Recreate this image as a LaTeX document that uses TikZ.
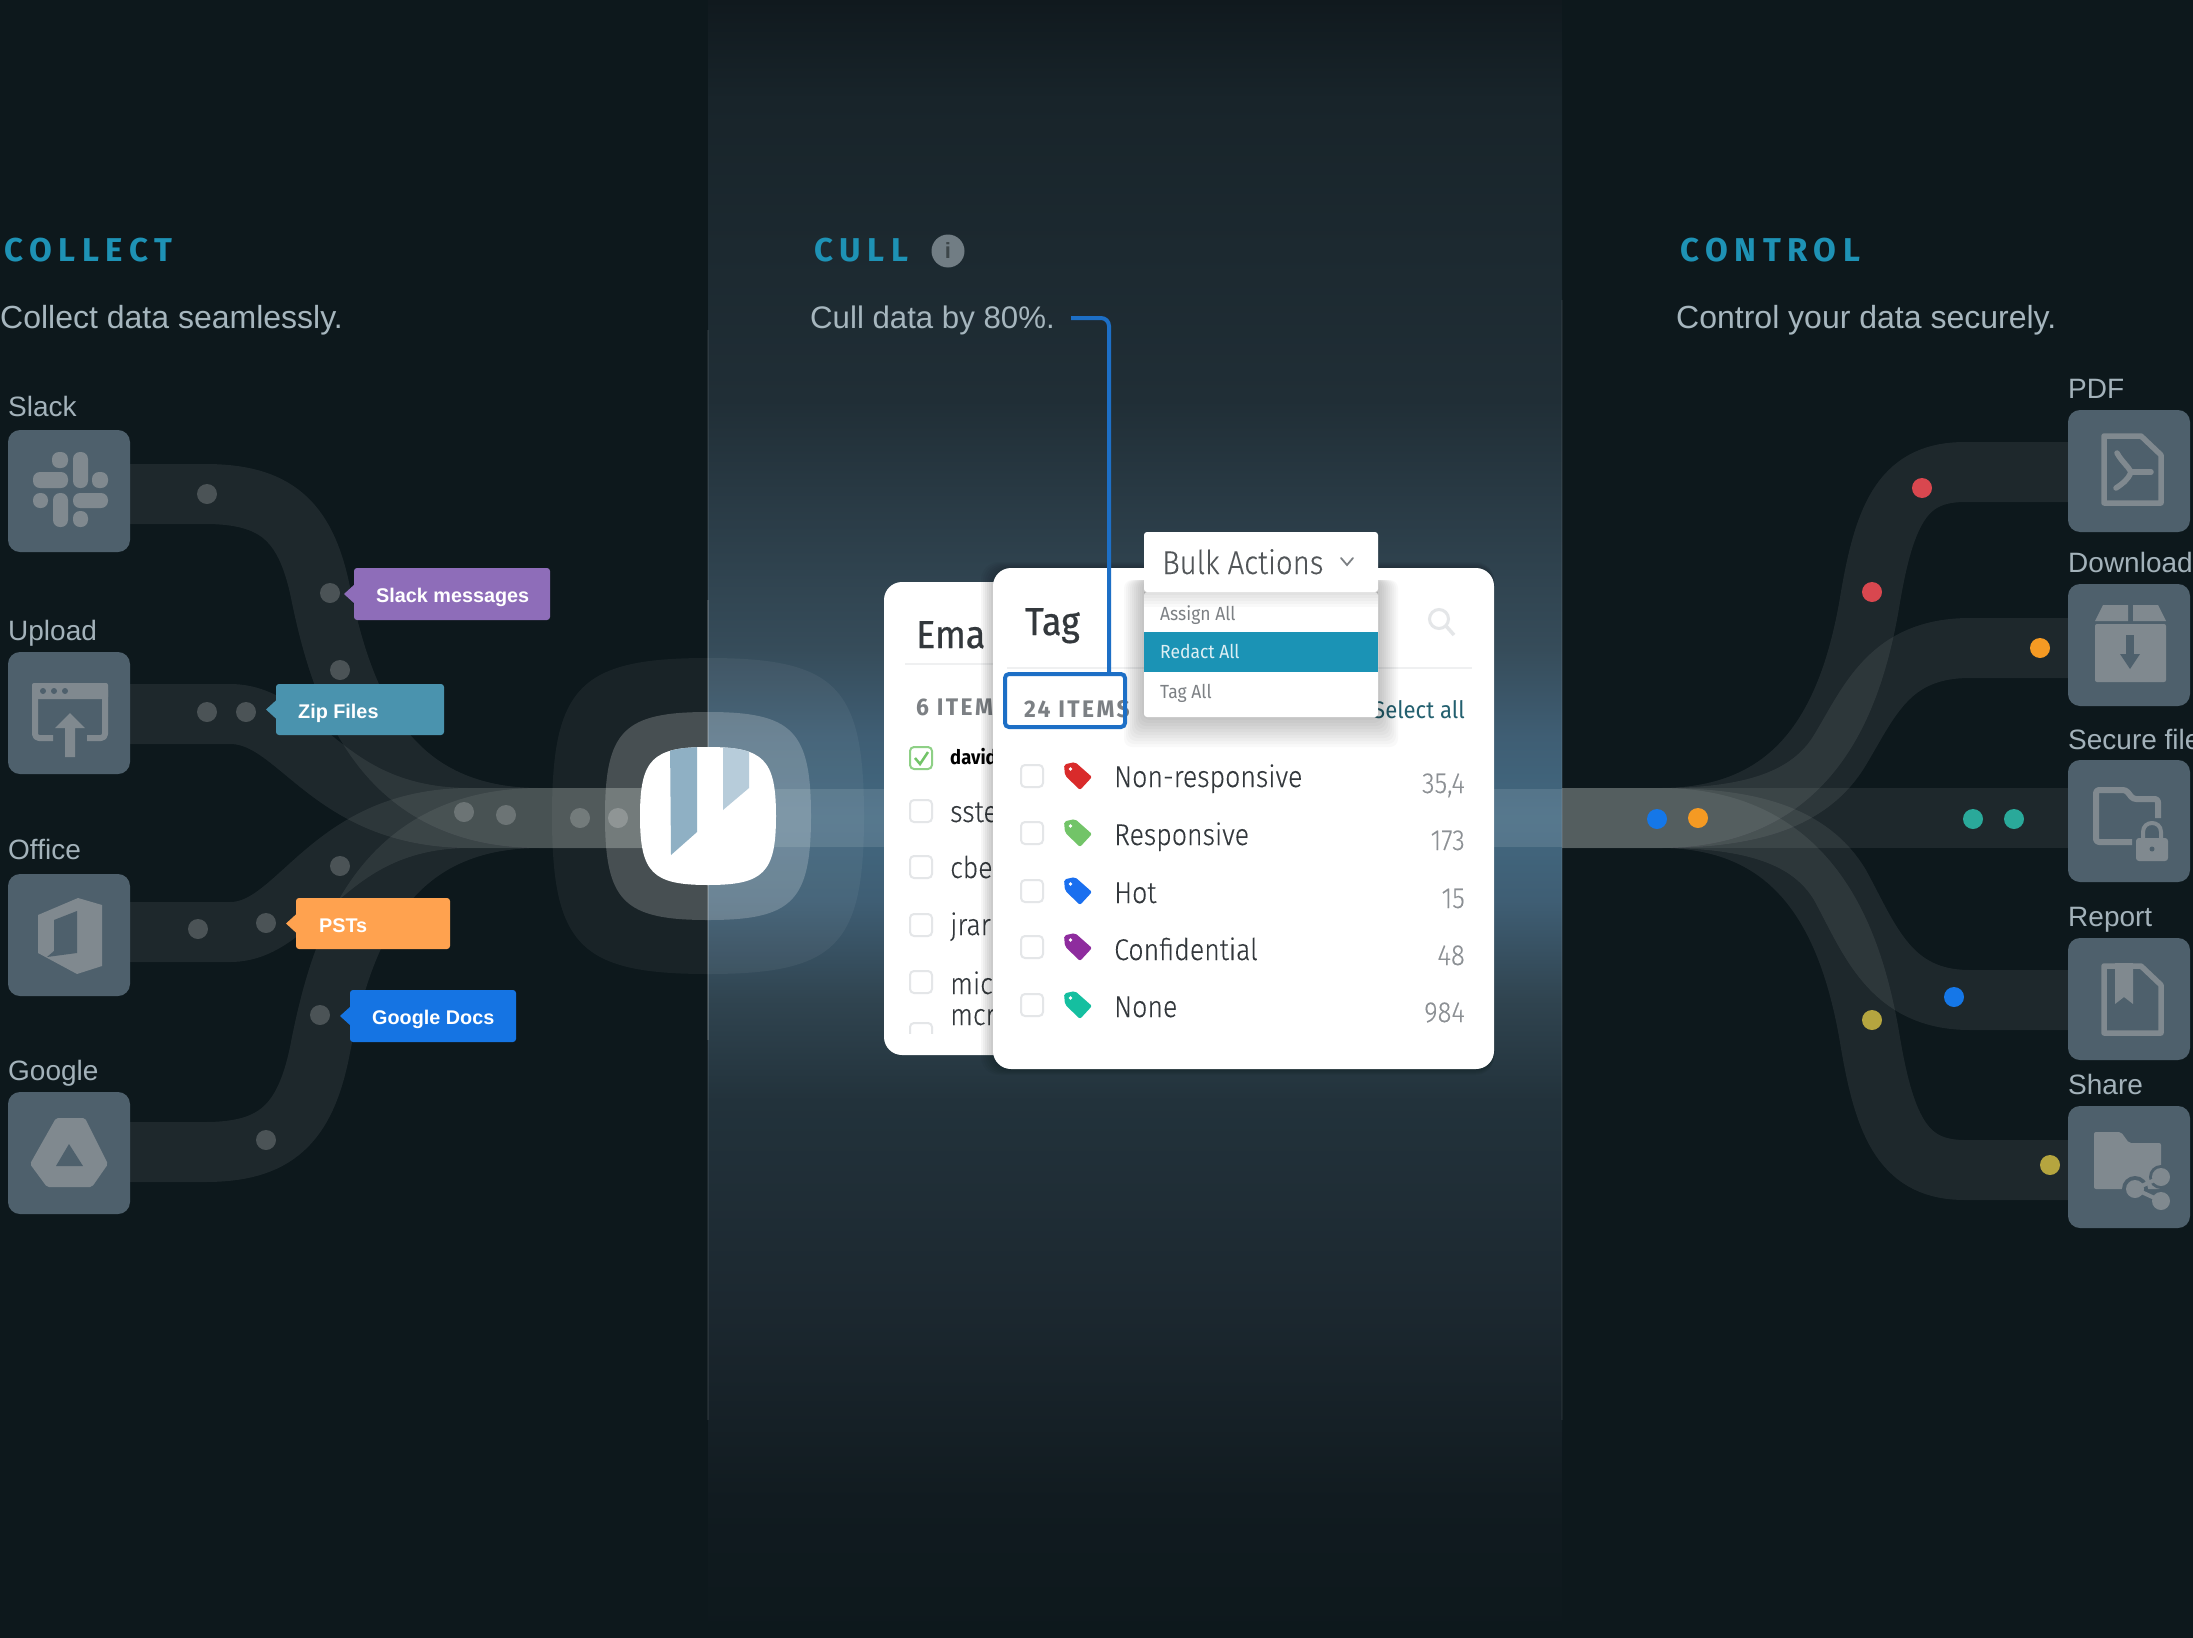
\documentclass[tikz,border=0pt]{standalone}
\usepackage{fontspec}
\setmainfont{Liberation Sans}
\newfontfamily\ui[FakeStretch=0.89,FakeBold=0.2]{Fira Sans Light}
\newfontfamily\uimed[FakeStretch=0.92]{Fira Sans}
\newfontfamily\uihead[FakeStretch=0.92,FakeBold=0.6]{Fira Sans}
\newfontfamily\uispace[FakeStretch=0.95,LetterSpace=10]{Fira Sans}
\newfontfamily\headfont[LetterSpace=20]{Fira Sans}
\usetikzlibrary{calc}
\definecolor{bgdark}{HTML}{0D181C}
\definecolor{boxc}{HTML}{4E606C}
\definecolor{iconc}{HTML}{80898F}
\definecolor{labelc}{HTML}{A3B2BA}
\definecolor{subc}{HTML}{A6B6BE}
\definecolor{headc}{HTML}{1E92B5}
\definecolor{bluel}{HTML}{1D6FC6}
\definecolor{cpurple}{HTML}{8E6DB9}
\definecolor{cteal}{HTML}{4A93AE}
\definecolor{corange}{HTML}{FFA24F}
\definecolor{cblue}{HTML}{1574E3}
\definecolor{dred}{HTML}{D9474F}
\definecolor{dorange}{HTML}{F59A23}
\definecolor{dblue}{HTML}{1577E8}
\definecolor{dteal}{HTML}{2AA99A}
\definecolor{dolive}{HTML}{B5A53F}
\definecolor{redact}{HTML}{1B93B5}
\definecolor{txtd}{HTML}{33383C}
\definecolor{txtg}{HTML}{7C8084}
\definecolor{numg}{HTML}{8C9094}
\definecolor{selc}{HTML}{23606F}
\definecolor{chk}{HTML}{E4E6E8}
\definecolor{tred}{HTML}{D92B2B}
\definecolor{tgreen}{HTML}{72C468}
\definecolor{tblue}{HTML}{1A6FEF}
\definecolor{tpurple}{HTML}{8E2C9E}
\definecolor{tteal}{HTML}{15BFA0}
\definecolor{strip1}{HTML}{8FB0C4}
\definecolor{strip2}{HTML}{B7CCDA}
\definecolor{sa}{HTML}{111B20}
\definecolor{sb}{HTML}{1C2830}
\definecolor{sc}{HTML}{22323B}
\definecolor{sd}{HTML}{304450}
\definecolor{se}{HTML}{3F5E74}
\definecolor{sf}{HTML}{426880}
\definecolor{sg}{HTML}{364C5A}
\definecolor{sh}{HTML}{202E36}
\definecolor{si}{HTML}{18242A}
\definecolor{sj}{HTML}{10191E}
\pgfdeclareverticalshading{cband}{100bp}{%
 color(0bp)=(bgdark); color(25bp)=(bgdark);
 color(29.2bp)=(sa);
 color(35.3bp)=(sb);
 color(41.4bp)=(sc);
 color(44.5bp)=(sd);
 color(47.5bp)=(se);
 color(50bp)=(sf);
 color(52.5bp)=(se);
 color(55.2bp)=(sg);
 color(62.8bp)=(sh);
 color(71.95bp)=(si);
 color(75bp)=(sj);
 color(100bp)=(sj)}
\tikzset{
 track/.style={draw=white,draw opacity=0.07,line width=60pt,line cap=butt},
 gdot/.style={circle,fill=white,fill opacity=0.2,inner sep=0pt,minimum size=20pt},
 cdot/.style={circle,fill=#1,inner sep=0pt,minimum size=20pt},
 srcbox/.style={rectangle,fill=boxc,rounded corners=12pt,inner sep=0pt,minimum width=122pt,minimum height=122pt},
 txt/.style={inner sep=0pt,anchor=base west},
 txr/.style={inner sep=0pt,anchor=base east},
 lab/.style={txt,text=labelc,font=\fontsize{28}{32}\selectfont},
 sub/.style={txt,text=subc,font=\fontsize{32}{36}\selectfont},
 head/.style={txt,text=headc,font=\fontsize{33}{36}\headfont\bfseries},
 calltxt/.style={txt,text=white,font=\fontsize{19.8}{24}\selectfont\bfseries},
 cardrow/.style={txt,text=txtd,font=\fontsize{30}{34}\ui},
 num/.style={txr,text=numg,font=\fontsize{29}{34}\ui},
 menu/.style={txt,text=txtg,font=\fontsize{19}{22}\uimed},
 cbx/.style={draw=chk,line width=2pt,rounded corners=4pt},
 ico/.style={fill=iconc},
 icol/.style={draw=iconc,line width=6pt,line join=round},
}
\newcommand{\sqpath}[4]{(#1-#3,#2) .. controls (#1-#3,#2-0.82*#4) and (#1-0.82*#3,#2-#4) .. (#1,#2-#4) .. controls (#1+0.82*#3,#2-#4) and (#1+#3,#2-0.82*#4) .. (#1+#3,#2) .. controls (#1+#3,#2+0.82*#4) and (#1+0.82*#3,#2+#4) .. (#1,#2+#4) .. controls (#1-0.82*#3,#2+#4) and (#1-#3,#2+0.82*#4) .. (#1-#3,#2) -- cycle}
\newcommand{\callout}[9]{%
 \fill[#7,rounded corners=3pt] (#2,#3) rectangle (#4,#5);
 \fill[#7] (#2-10,#3/2+#5/2) -- (#2+1,#3/2+#5/2-10) -- (#2+1,#3/2+#5/2+10) -- cycle;
 \node[calltxt] (#1) at (#6,#8) {#9};}
\newcommand{\tagicon}[2]{%
 \begin{scope}[shift={(1078,#1)}]
 \fill[#2,rounded corners=2pt] (-14,-11.5) -- (-3,-14) -- (14,1) -- (2,14) -- (-13,-0.5) -- cycle;
 \fill[white] (-7.5,-7) circle[radius=1.8pt];
 \end{scope}}
\newcommand{\pill}[4]{\fill[iconc,rounded corners=7pt] (#1,#2) rectangle (#3,#4);}
\begin{document}
\begin{tikzpicture}[x=1pt,y=-1pt]
\useasboundingbox (0,0) rectangle (2193,1638);
\fill[bgdark] (0,0) rectangle (2193,1638);
\shade[shading=cband] (708,0) rectangle (1562,1638);
% centre band
\fill[white,opacity=0.11] (708,789) rectangle (1562,847);
% thin edge lines
\draw[white,opacity=0.07,line width=1.5pt] (708,330) -- (708,1420);
\draw[white,opacity=0.12,line width=1.5pt] (708,600) -- (708,1040);
\draw[white,opacity=0.05,line width=1.5pt] (1562,300) -- (1562,1420);
% left tracks
\draw[track] (130,494) -- (205,494) .. controls (275,494) and (305,520) .. (320,590) .. controls (342,700) and (385,818) .. (540,818) -- (708,818);
\draw[track] (130,714) -- (230,714) .. controls (300,714) and (325,818) .. (470,818) -- (708,818);
\draw[track] (130,932) -- (230,932) .. controls (300,932) and (325,818) .. (470,818) -- (708,818);
\draw[track] (130,1152) -- (205,1152) .. controls (275,1152) and (305,1125) .. (320,1050) .. controls (342,936) and (385,818) .. (540,818) -- (708,818);
% right tracks
\draw[track] (2068,472) -- (1965,472) .. controls (1905,472) and (1885,510) .. (1870,600) .. controls (1850,720) and (1800,818) .. (1660,818) -- (1562,818);
\draw[track] (2068,648) -- (1970,648) .. controls (1890,648) and (1870,700) .. (1840,750) .. controls (1810,800) and (1750,818) .. (1660,818) -- (1562,818);
\draw[track] (2068,818) -- (1562,818);
\draw[track] (2068,1000) -- (1970,1000) .. controls (1890,1000) and (1870,940) .. (1840,885) .. controls (1810,835) and (1750,818) .. (1660,818) -- (1562,818);
\draw[track] (2068,1170) -- (1965,1170) .. controls (1905,1170) and (1885,1130) .. (1870,1040) .. controls (1850,920) and (1800,818) .. (1660,818) -- (1562,818);
% logo
\fill[white,opacity=0.05] \sqpath{708}{816}{156}{158};
\fill[white,opacity=0.2] \sqpath{708}{816}{103}{104};
\fill[white] \sqpath{708}{816}{68}{69};
\begin{scope}
\clip \sqpath{708}{816}{68}{69};
\fill[strip1] (670,740) -- (697,740) -- (697,832) -- (671,855) -- cycle;
\fill[strip2] (723,740) -- (749,740) -- (749,788) -- (723,810) -- cycle;
\end{scope}
% grey dots
\node[gdot] (g1) at (207,494) {};
\node[gdot] (g2) at (330,593) {};
\node[gdot] (g3) at (340,670) {};
\node[gdot] (g4) at (207,712) {};
\node[gdot] (g5) at (246,712) {};
\node[gdot] (g6) at (464,812) {};
\node[gdot] (g7) at (506,815) {};
\node[gdot] (g8) at (580,818) {};
\node[gdot] (g9) at (618,818) {};
\node[gdot] (g10) at (340,866) {};
\node[gdot] (g11) at (198,929) {};
\node[gdot] (g12) at (266,923) {};
\node[gdot] (g13) at (320,1015) {};
\node[gdot] (g14) at (266,1140) {};
% coloured dots
\node[cdot=dred] (c1) at (1922,488) {};
\node[cdot=dred] (c2) at (1872,592) {};
\node[cdot=dorange] (c3) at (2040,648) {};
\node[cdot=dblue] (c4) at (1657,819) {};
\node[cdot=dorange] (c5) at (1698,818) {};
\node[cdot=dteal] (c6) at (1973,819) {};
\node[cdot=dteal] (c7) at (2014,819) {};
\node[cdot=dblue] (c8) at (1954,997) {};
\node[cdot=dolive] (c9) at (1872,1020) {};
\node[cdot=dolive] (c10) at (2050,1165) {};
% headings
\node[head] (hcollect) at (4,261) {COLLECT};
\node[head] (hcull) at (814,261) {CULL};
\node[head] (hcontrol) at (1680,261) {CONTROL};
\node[circle,fill=iconc!70!boxc,inner sep=0pt,minimum size=33pt,text=bgdark!80!white,font=\fontsize{22}{24}\selectfont\bfseries] (info) at (948,251) {i};
\node[sub] (scollect) at (0,328) {Collect data seamlessly.};
\node[sub,font=\fontsize{31.2}{36}\selectfont] (scull) at (810,328) {Cull data by 80\%.};
\node[sub] (scontrol) at (1676,328) {Control your data securely.};
% source boxes
\node[lab] (lslack) at (8,416) {Slack};
\node[lab] (lupload) at (8,640) {Upload};
\node[lab] (loffice) at (8,859) {Office};
\node[lab] (lgoogle) at (8,1080) {Google};
\node[srcbox] (bslack) at (69,491) {};
\node[srcbox] (bupload) at (69,713) {};
\node[srcbox] (boffice) at (69,935) {};
\node[srcbox] (bgoogle) at (69,1153) {};
% slack icon
\pill{73}{452}{88}{488}\pill{33}{472}{68}{488}\pill{73}{493}{108}{508}\pill{53}{493}{68}{527}
\pill{52}{452}{68}{468}\pill{92}{472}{108}{488}\pill{33}{493}{48}{508}\pill{73}{511}{88}{527}
% upload icon
\draw[icol,rounded corners=4pt] (53,738) -- (35,738) -- (35,686) -- (105,686) -- (105,738) -- (87,738);
\fill[iconc,rounded corners=2pt] (32,683) rectangle (108,699);
\fill[boxc] (43,691) circle[radius=3pt] (54,691) circle[radius=3pt] (65,691) circle[radius=3pt];
\fill[iconc] (70,713) -- (85,728) -- (75,728) -- (75,757) -- (65,757) -- (65,728) -- (55,728) -- cycle;
% office icon
\fill[iconc] (38,915) -- (78,898) -- (102,905) -- (102,966) -- (77,974) -- (38,953) -- cycle;
\fill[boxc] (54,920) -- (77,911) -- (77,953) -- (47,957) -- (54,951) -- cycle;
% drive icon
\fill[iconc,rounded corners=2pt] (56,1118) -- (85,1118) -- (108,1164) -- (92,1187) -- (47,1187) -- (30,1164) -- cycle;
\fill[boxc] (69,1144) -- (83,1166) -- (56,1166) -- cycle;
% callouts
\callout{mslack}{354}{568}{550}{620}{376}{cpurple}{602}{Slack messages}
\callout{mzip}{276}{684}{444}{735}{298}{cteal}{718}{Zip Files}
\callout{mpst}{296}{898}{450}{949}{319}{corange}{932}{PSTs}
\callout{mdocs}{350}{990}{516}{1042}{372}{cblue}{1024}{Google Docs}
% right boxes
\node[lab] (lpdf) at (2068,398) {PDF};
\node[lab] (ldl) at (2068,572) {Download};
\node[lab] (lsec) at (2068,749) {Secure file};
\node[lab] (lrep) at (2068,926) {Report};
\node[lab] (lshare) at (2068,1094) {Share};
\node[srcbox] (bpdf) at (2129,471) {};
\node[srcbox] (bdl) at (2129,645) {};
\node[srcbox] (bsec) at (2129,821) {};
\node[srcbox] (brep) at (2129,999) {};
\node[srcbox] (bshr) at (2129,1167) {};
% pdf icon
\draw[icol,line width=5.5pt] (2104,436) -- (2141,436) -- (2161,455) -- (2161,503) -- (2104,503) -- cycle;
\draw[iconc,line width=5.5pt,line cap=round] (2117,453) .. controls (2122,462) and (2128,466) .. (2131,472);
\draw[iconc,line width=5.5pt,line cap=round] (2131,472) -- (2151,472);
\draw[iconc,line width=5.5pt,line cap=round] (2131,472) .. controls (2128,480) and (2122,484) .. (2116,488);
% download icon
\fill[iconc] (2103,605) -- (2128,605) -- (2128,621) -- (2095,621) -- cycle;
\fill[iconc] (2133,605) -- (2158,605) -- (2166,621) -- (2133,621) -- cycle;
\fill[iconc,rounded corners=2pt] (2095,624) rectangle (2166,682);
\fill[boxc] (2126,635) rectangle (2134,654);
\fill[boxc] (2120,654) -- (2140,654) -- (2130,669) -- cycle;
% secure icon
\draw[icol,line width=6pt,rounded corners=3pt] (2132,842) -- (2096,842) -- (2096,790) -- (2126,790) -- (2133,799) -- (2158,799) -- (2158,818);
\draw[iconc,line width=4pt] (2143,840) -- (2143,832) .. controls (2143,820) and (2161,820) .. (2161,832) -- (2161,840);
\fill[iconc,rounded corners=3pt] (2136,838) rectangle (2168,861);
\fill[boxc] (2152,849) circle[radius=2.5pt];
% report icon
\draw[icol,line width=5.5pt] (2104,966) -- (2141,966) -- (2161,985) -- (2161,1033) -- (2104,1033) -- cycle;
\fill[iconc] (2115,963) -- (2133,963) -- (2133,1004) -- (2124,997) -- (2115,1004) -- cycle;
% share icon
\fill[iconc,rounded corners=2pt] (2094,1132) -- (2121,1132) -- (2129,1143) -- (2161,1143) -- (2161,1189) -- (2094,1189) -- cycle;
\fill[boxc] (2161,1177) circle[radius=12pt] (2135,1189) circle[radius=13pt] (2161,1201) circle[radius=12pt];
\draw[iconc,line width=4pt] (2161,1177) -- (2135,1189) -- (2161,1201);
\fill[iconc] (2161,1177) circle[radius=9pt] (2135,1189) circle[radius=9pt] (2161,1201) circle[radius=9pt];
% email card
\fill[white,rounded corners=18pt] (884,582) rectangle (1040,1055);
\draw[chk!60!white,line width=1.5pt] (905,664) -- (1000,664);
\node[txt,text=txtd,font=\fontsize{39}{42}\uihead] (ema) at (916,648) {Ema};
\node[txt,text=txtg,font=\fontsize{24}{28}\uispace\bfseries] (six) at (916,715) {6 ITEM};
\node[cbx,draw=tgreen!80!white,minimum size=22pt,inner sep=0pt] (ck1) at (921,758) {};
\draw[tgreen,line width=2.5pt] (915,758) -- (920,764) -- (928,752);
\node[txt,text=black,font=\fontsize{20}{24}\uimed\bfseries] (e1) at (950,764) {david};
\node[cbx,minimum size=22pt,inner sep=0pt] (ck2) at (921,811) {};
\node[cardrow] (e2) at (950,822) {sste};
\node[cbx,minimum size=22pt,inner sep=0pt] (ck3) at (921,867) {};
\node[cardrow] (e3) at (950,878) {cbe};
\node[cbx,minimum size=22pt,inner sep=0pt] (ck4) at (921,925) {};
\node[cardrow] (e4) at (950,935) {jrar};
\node[cbx,minimum size=22pt,inner sep=0pt] (ck5) at (921,982) {};
\node[cardrow] (e5) at (950,994) {mic};
\node[cardrow] (e6) at (950,1025) {mcr};
\begin{scope}
\clip (900,1020) rectangle (940,1033);
\node[cbx,minimum size=22pt,inner sep=0pt] (ck6) at (921,1034) {};
\end{scope}
% tag card shadow
\foreach \i in {1,...,6}{\fill[black,opacity=0.035,rounded corners=18pt] (993-\i*2,568-\i) rectangle (1494,1069+\i);}
\fill[white,rounded corners=18pt] (993,568) rectangle (1494,1069);
\draw[chk!60!white,line width=1.5pt] (1007,668) -- (1472,668);
\node[txt,text=txtd,font=\fontsize{39}{42}\uihead] (tagt) at (1025,635) {Tag};
\node[txt,text=txtg,font=\fontsize{24}{28}\uispace\bfseries] (items) at (1024,717) {24 ITEMS};
\node[txr,text=selc,font=\fontsize{24}{28}\uimed] (sel) at (1465,718) {Select all};
\draw[chk,line width=3pt] (1439,619) circle[radius=9.5pt];
\draw[chk,line width=3.5pt] (1446,626) -- (1454,635);
% tag rows
\foreach \y in {776,833,891,947,1005}{\draw[cbx] (1021,\y-11) rectangle (1043,\y+11);}
\tagicon{776}{tred}\tagicon{833}{tgreen}\tagicon{891}{tblue}\tagicon{947}{tpurple}\tagicon{1005}{tteal}
\node[cardrow] (t1) at (1114,787) {Non-responsive};
\node[cardrow] (t2) at (1114,845) {Responsive};
\node[cardrow] (t3) at (1114,903) {Hot};
\node[cardrow] (t4) at (1114,960) {Confidential};
\node[cardrow] (t5) at (1114,1017) {None};
\node[num] (n1) at (1465,793) {35,4};
\node[num] (n2) at (1465,850) {173};
\node[num] (n3) at (1465,908) {15};
\node[num] (n4) at (1465,965) {48};
\node[num] (n5) at (1465,1022) {984};
% dropdown
\foreach \i in {1,...,10}{\fill[black,opacity=0.022,rounded corners=8pt] (1144-\i*2,580) rectangle (1378+\i*2,717+\i*3);}
\fill[white,rounded corners=3pt] (1144,592) rectangle (1378,717);
\foreach \i in {1,...,5}{\fill[black,opacity=0.025] (1144,592) rectangle (1378,592+\i*3);}
\fill[white,rounded corners=3pt] (1144,532) rectangle (1378,592);
\fill[redact] (1144,632) rectangle (1378,672);
\node[txt,text=txtd!85!white,font=\fontsize{33}{36}\ui] (bulk) at (1162,574) {Bulk Actions};
\draw[txtg,line width=1.8pt,line cap=round] (1341,558) -- (1347,565) -- (1353,558);
\node[menu] (m1) at (1160,620) {Assign All};
\node[menu,text=white!85!redact] (m2) at (1160,658) {Redact All};
\node[menu] (m3) at (1160,698) {Tag All};
% blue highlight and connector
\node[rectangle,draw=bluel,line width=4pt,rounded corners=4pt,minimum width=120pt,minimum height=53pt,inner sep=0pt] (itemsbox) at (1065,700.5) {};
\coordinate (cstart) at (1071,318);
\coordinate (cend) at (1109,674);
\draw[bluel,line width=4pt,rounded corners=8pt] (cstart) -| (cend);
\end{tikzpicture}
\end{document}
